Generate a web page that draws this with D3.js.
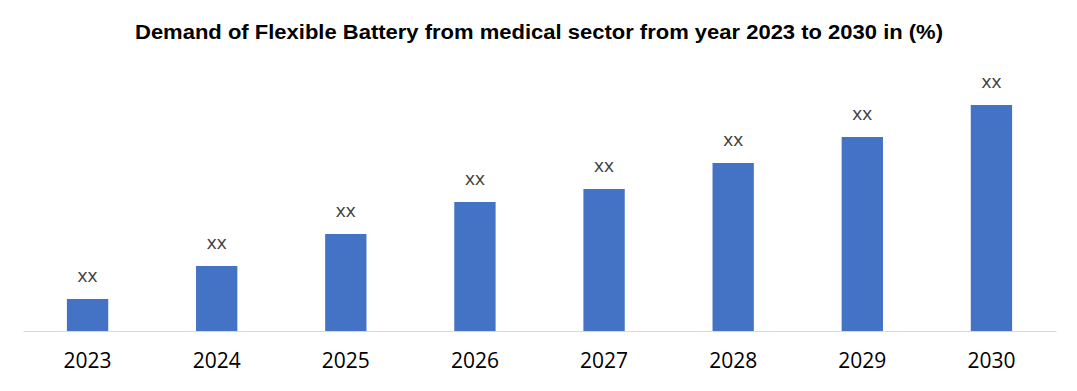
<!DOCTYPE html>
<html><head><meta charset="utf-8">
<script src="https://cdn.jsdelivr.net/npm/d3@7"></script>
<style>body{margin:0;background:#fff}</style>
</head><body>
<svg id="c" width="1077" height="391"></svg>
<script>
const categories = ["2023","2024","2025","2026","2027","2028","2029","2030"];
const values = [3.2, 6.5, 9.7, 12.9, 14.2, 16.8, 19.4, 22.6];
const valueLabels = ["xx","xx","xx","xx","xx","xx","xx","xx"];
const title = "Demand of Flexible Battery from medical sector from year 2023 to 2030 in (%)";

const svg = d3.select("#c");
const x = d3.scaleBand().domain(categories).range([23, 1056]).paddingInner(0.68).paddingOuter(0.34);
const y = d3.scaleLinear().domain([0, 25]).range([331, 81]);

svg.append("text").attr("x", 539).attr("y", 39).attr("text-anchor", "middle")
  .attr("font-family", "Liberation Sans Narrow, Liberation Sans, Arial").attr("font-weight", "bold")
  .attr("font-size", 20).attr("textLength", 808).attr("lengthAdjust", "spacingAndGlyphs")
  .attr("fill", "#000").text(title);

svg.selectAll("rect.bar").data(values).enter().append("rect")
  .attr("class", "bar")
  .attr("x", (d, i) => x(categories[i]))
  .attr("width", x.bandwidth())
  .attr("y", d => y(d))
  .attr("height", d => y(0) - y(d))
  .attr("fill", "#4472C4");

const ax = svg.append("g").attr("transform", `translate(0,${y(0)})`)
  .call(d3.axisBottom(x).tickSize(0).tickPadding(22));
ax.select(".domain").attr("stroke", "#d9d9d9").attr("stroke-width", 1.2);
ax.selectAll("text").attr("font-family", "Open Sans, Liberation Sans, Arial").attr("font-size", 21).attr("fill", "#000");

svg.selectAll("text.vl").data(values).enter().append("text")
  .attr("class", "vl")
  .attr("x", (d, i) => x(categories[i]) + x.bandwidth() / 2)
  .attr("y", d => y(d) - 17)
  .attr("text-anchor", "middle")
  .attr("font-family", "Open Sans, Liberation Sans, Arial").attr("font-size", 19)
  .attr("fill", "#404040")
  .text((d, i) => valueLabels[i]);
</script>
</body></html>
